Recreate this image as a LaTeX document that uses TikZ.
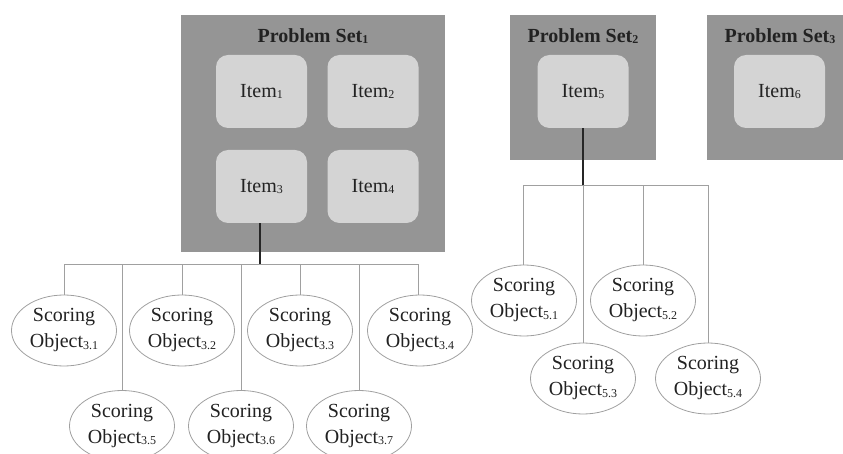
\documentclass[tikz,border=0pt]{standalone}
\usepackage{fontspec}
\setmainfont{Liberation Serif}
\usetikzlibrary{shapes.geometric}
\newcommand{\sbs}[1]{{\fontsize{12}{12}\selectfont\raisebox{-1.5pt}{#1}}}
\definecolor{setfill}{HTML}{959595}
\definecolor{itemfill}{HTML}{D4D4D4}
\definecolor{linegray}{HTML}{A0A0A0}
\definecolor{txt}{HTML}{222222}
\tikzset{
  setbox/.style={fill=setfill, draw=none},
  itembox/.style={fill=itemfill, draw=none, rounded corners=12pt, minimum width=91pt, minimum height=73pt, inner sep=0pt, text=txt, font=\fontsize{20}{24}\selectfont},
  settitle/.style={text=txt, font=\fontsize{20}{24}\selectfont\bfseries, inner sep=0pt},
  scobj/.style={ellipse, draw=linegray, fill=white, line width=0.8pt, minimum width=105pt, minimum height=71pt, inner sep=0pt, align=center, text=txt, font=\fontsize{20}{26}\selectfont},
  branch/.style={draw=linegray, line width=0.8pt},
  trunk/.style={draw=black!85, line width=1.5pt},
}
\begin{document}
\begin{tikzpicture}[x=1pt, y=-1pt]
\useasboundingbox (0,0) rectangle (843,454);
\begin{scope}
\clip (0,0) rectangle (843,454);
% problem set boxes
\node[setbox, minimum width=264pt, minimum height=237pt, inner sep=0pt] (ps1) at (313,133.5) {};
\node[setbox, minimum width=146pt, minimum height=145pt, inner sep=0pt] (ps2) at (583,87.5) {};
\node[setbox, minimum width=140pt, minimum height=145pt, inner sep=0pt, anchor=west] (ps3) at (707,87.5) {};
\node[settitle] (t1) at (313,36) {Problem Set\sbs{1}};
\node[settitle] (t2) at (583,36) {Problem Set\sbs{2}};
\node[settitle] (t3) at (780,36) {Problem Set\sbs{3}};
% items
\node[itembox] (i1) at (261.5,91.5) {Item\sbs{1}};
\node[itembox] (i2) at (373,91.5) {Item\sbs{2}};
\node[itembox] (i3) at (261.5,186.5) {Item\sbs{3}};
\node[itembox] (i4) at (373,186.5) {Item\sbs{4}};
\node[itembox] (i5) at (583,91.5) {Item\sbs{5}};
\node[itembox] (i6) at (779.5,91.5) {Item\sbs{6}};
% scoring objects for item 3
\node[scobj] (s31) at (64,330.5) {Scoring\\Object\sbs{3.1}};
\node[scobj] (s32) at (182,330.5) {Scoring\\Object\sbs{3.2}};
\node[scobj] (s33) at (300,330.5) {Scoring\\Object\sbs{3.3}};
\node[scobj] (s34) at (420,330.5) {Scoring\\Object\sbs{3.4}};
\node[scobj] (s35) at (122,426) {Scoring\\Object\sbs{3.5}};
\node[scobj] (s36) at (241,426) {Scoring\\Object\sbs{3.6}};
\node[scobj] (s37) at (359,426) {Scoring\\Object\sbs{3.7}};
% scoring objects for item 5
\node[scobj] (s51) at (524,300.5) {Scoring\\Object\sbs{5.1}};
\node[scobj] (s52) at (643,300.5) {Scoring\\Object\sbs{5.2}};
\node[scobj] (s53) at (583,378.5) {Scoring\\Object\sbs{5.3}};
\node[scobj] (s54) at (708,378.5) {Scoring\\Object\sbs{5.4}};
% connectors
\coordinate (b1) at (260,264);
\coordinate (b2) at (583,185);
\foreach \s/\x in {s31/64, s35/122, s32/182, s36/241, s33/300, s37/359, s34/418}{
  \draw[branch] (\s.north -| \x,0) -- (\x,264) -- (b1);
}
\foreach \s/\x in {s51/523, s53/583, s52/643, s54/708}{
  \draw[branch] (\s.north -| \x,0) -- (\x,185) -- (b2);
}
\draw[trunk] (i3.south -| b1) -- (b1);
\draw[trunk] (i5.south) -- (b2);
\end{scope}
\end{tikzpicture}
\end{document}
